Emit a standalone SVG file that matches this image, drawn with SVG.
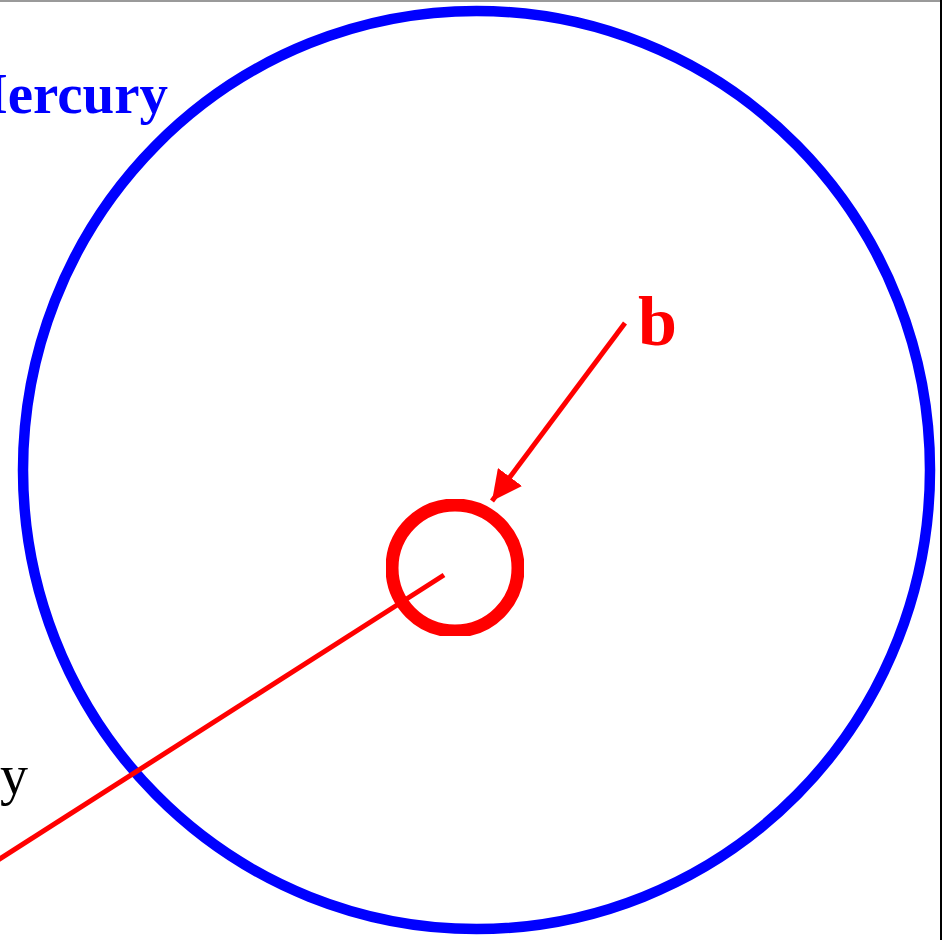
<svg xmlns="http://www.w3.org/2000/svg" width="942" height="940" viewBox="0 0 942 940">
<defs>
<style>
.lbl{font-family:"Liberation Serif","Times New Roman",serif;}
</style>
<marker id="ah" markerUnits="userSpaceOnUse" markerWidth="32" markerHeight="30" refX="30" refY="15" orient="auto">
<path d="M0,0 L30,15 L0,30 Z" fill="#ff0000"/>
</marker>
<clipPath id="cc"><rect x="386" y="499" width="138" height="137"/></clipPath>
</defs>
<rect width="942" height="940" fill="#ffffff"/>
<rect x="0" y="0" width="942" height="2" fill="#9a9a9a"/>
<rect x="940" y="0" width="2" height="940" fill="#000000"/>
<g id="orbit">
<ellipse cx="476.5" cy="470" rx="453.5" ry="459" fill="none" stroke="#0000ff" stroke-width="10.5"/>
</g>
<g id="mercury-label">
<text class="lbl" x="168" y="113" font-size="57" font-weight="bold" fill="#0000ff" text-anchor="end">Mercury</text>
</g>
<g id="center">
<circle cx="455" cy="568" r="63" fill="none" stroke="#ff0000" stroke-width="13" clip-path="url(#cc)"/>
</g>
<g id="b-label">
<text class="lbl" x="638" y="345" font-size="70" font-weight="bold" fill="#ff0000">b</text>
</g>
<g id="y-label">
<text class="lbl" x="28" y="794" font-size="56" fill="#000000" text-anchor="end">y</text>
</g>
<g id="connectors">
<line x1="444" y1="575" x2="-2" y2="860" stroke="#ff0000" stroke-width="5"/>
<line x1="625" y1="323" x2="492" y2="501" stroke="#ff0000" stroke-width="5" marker-end="url(#ah)"/>
</g>
</svg>
